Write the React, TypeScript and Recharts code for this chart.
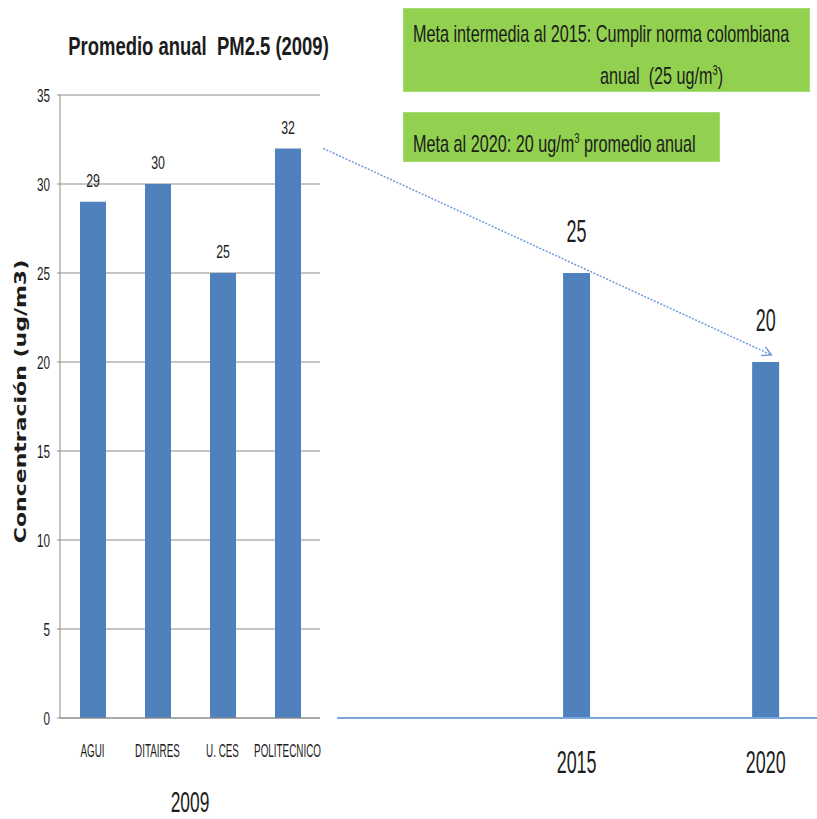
import {
  BarChart, Bar, XAxis, YAxis, CartesianGrid, LabelList, Label, ReferenceLine,
} from 'recharts'

const stations = ['AGUI', 'DITAIRES', 'U. CES', 'POLITECNICO']
const pm25_2009 = [29, 30, 25, 32]
const goalYears = [2015, 2020]
const goalValues = [25, 20]
const yTicks = [0, 5, 10, 15, 20, 25, 30, 35]

const leftData = stations.map((s, i) => ({ station: s, value: pm25_2009[i] }))
const rightData = goalYears.map((y, i) => ({ year: y, value: goalValues[i] }))

const FONT = '"Liberation Sans", Arial, sans-serif'
const BLUE = '#4F81BD'
const GRID = '#8c8c8c'
const TXT = '#1c1c1c'

// the source picture is squeezed sideways, so text gets a scaleX
const SqText = ({ x, y, s, size, children, anchor = 'middle', bold = false }: any) => (
  <g transform={`translate(${x},${y})`}>
    <text
      transform={`scale(${s},1)`}
      textAnchor={anchor}
      dominantBaseline="central"
      fontFamily={FONT}
      fontSize={size}
      fontWeight={bold ? 700 : 400}
      fill={TXT}
    >
      {children}
    </text>
  </g>
)

const YTick = ({ x, y, payload }: any) => (
  <SqText x={x} y={y} s={0.65} size={18} anchor="end">{payload.value}</SqText>
)

const StationTick = ({ x, y, payload }: any) => (
  <SqText x={x} y={y} s={0.52} size={19}>{payload.value}</SqText>
)

const YearTick = ({ x, y, payload }: any) => (
  <SqText x={x} y={y} s={0.56} size={32}>{payload.value}</SqText>
)

const Arrow = (props: any) => {
  const { x1, y1, x2, y2 } = props
  const a = Math.atan2(y2 - y1, x2 - x1)
  const h = 10
  const p1 = [x2 - h * Math.cos(a - 0.5), y2 - h * Math.sin(a - 0.5)]
  const p2 = [x2 - h * Math.cos(a + 0.5), y2 - h * Math.sin(a + 0.5)]
  return (
    <g stroke="#6f9bd6" fill="none" strokeWidth={1.5}>
      <line x1={x1} y1={y1} x2={x2} y2={y2} strokeDasharray="2 1.5" />
      <polyline points={`${p1[0]},${p1[1]} ${x2},${y2} ${p2[0]},${p2[1]}`} />
    </g>
  )
}

const greenBox: any = {
  position: 'absolute',
  background: '#92D050',
  border: '1px solid #a6da72',
  boxSizing: 'border-box',
}

const boxText = (left: number, top: number): any => ({
  position: 'absolute',
  left,
  top,
  fontFamily: FONT,
  fontSize: 24,
  lineHeight: '24px',
  color: TXT,
  whiteSpace: 'nowrap',
  transform: 'scaleX(0.675)',
  transformOrigin: 'left center',
})

export default function App() {
  return (
    <div style={{ position: 'absolute', left: 0, top: 0, width: 817, height: 819, background: '#fff', overflow: 'hidden' }}>
      <div
        style={{
          position: 'absolute', left: 0, top: 33, width: 397, textAlign: 'center',
          fontFamily: FONT, fontSize: 26, lineHeight: '26px', fontWeight: 700, color: TXT,
          whiteSpace: 'nowrap', transform: 'scaleX(0.71)', transformOrigin: 'center',
        }}
      >
        Promedio anual&nbsp; PM2.5 (2009)
      </div>

      <div style={{ ...greenBox, left: 403, top: 8, width: 407, height: 84 }} />
      <div style={boxText(413, 22)}>Meta intermedia al 2015: Cumplir norma colombiana</div>
      <div style={boxText(600, 58)}>anual&nbsp; (25 ug/m<sup style={{ fontSize: 14 }}>3</sup>)</div>
      <div style={{ ...greenBox, left: 403, top: 112, width: 317, height: 50 }} />
      <div style={boxText(413, 126)}>Meta al 2020: 20 ug/m<sup style={{ fontSize: 14 }}>3</sup> promedio anual</div>

      <div style={{ position: 'absolute', left: 0, top: 0 }}>
        <BarChart width={340} height={819} data={leftData} margin={{ top: 95, right: 20, bottom: 0, left: 0 }}>
          <CartesianGrid horizontal vertical={false} stroke={GRID} />
          <YAxis
            width={60}
            domain={[0, 35]}
            ticks={yTicks}
            interval={0}
            axisLine={{ stroke: GRID }}
            tickLine={{ stroke: GRID }}
            tickSize={3}
            tickMargin={7}
            tick={<YTick />}
          >
            <Label
              content={({ viewBox }: any) => (
                <g transform={`translate(${viewBox.x + 20},${viewBox.y + viewBox.height / 2 - 5}) rotate(-90) scale(1,0.75)`}>
                  <text textAnchor="middle" dominantBaseline="central" fontFamily="DejaVu Sans, Verdana, sans-serif" fontWeight={700} fontSize={22} fill={TXT}>
                    Concentración (ug/m3)
                  </text>
                </g>
              )}
            />
          </YAxis>
          <XAxis
            dataKey="station"
            height={101}
            axisLine={{ stroke: GRID }}
            tickLine={false}
            tickSize={0}
            tickMargin={32}
            tick={<StationTick />}
            interval={0}
          >
            <Label
              content={({ viewBox }: any) => (
                <SqText x={viewBox.x + viewBox.width / 2} y={viewBox.y + 84} s={0.58} size={30}>2009</SqText>
              )}
            />
          </XAxis>
          <Bar dataKey="value" fill={BLUE} barSize={26} isAnimationActive={false}>
            <LabelList
              dataKey="value"
              content={({ x, y, width, value }: any) => (
                <SqText x={x + width / 2} y={y - 22} s={0.65} size={19}>{value}</SqText>
              )}
            />
          </Bar>
        </BarChart>
      </div>

      <div style={{ position: 'absolute', left: 320, top: 0 }}>
        <BarChart width={497} height={819} data={rightData} margin={{ top: 95, right: 0, bottom: 0, left: 0 }}>
          <YAxis hide domain={[0, 35]} />
          <XAxis
            dataKey="year"
            type="number"
            domain={[2008.214, 2021.357]}
            allowDataOverflow
            ticks={goalYears}
            height={101}
            axisLine={false}
            tickLine={false}
            tickSize={0}
            tickMargin={44}
            tick={<YearTick />}
          />
          <Bar dataKey="value" fill={BLUE} barSize={27} isAnimationActive={false}>
            <LabelList
              dataKey="value"
              content={({ x, y, width, value }: any) => (
                <SqText x={x + width / 2} y={y - 42} s={0.56} size={32}>{value}</SqText>
              )}
            />
          </Bar>
          <ReferenceLine
            segment={[{ x: 2008.664, y: 0 }, { x: 2021.357, y: 0 }]}
            stroke="#7ea6d8"
            strokeWidth={2}
            ifOverflow="visible"
          />
          <ReferenceLine
            segment={[{ x: 2008.3, y: 32 }, { x: 2020.15, y: 20.4 }]}
            ifOverflow="visible"
            shape={<Arrow />}
          />
        </BarChart>
      </div>
    </div>
  )
}
